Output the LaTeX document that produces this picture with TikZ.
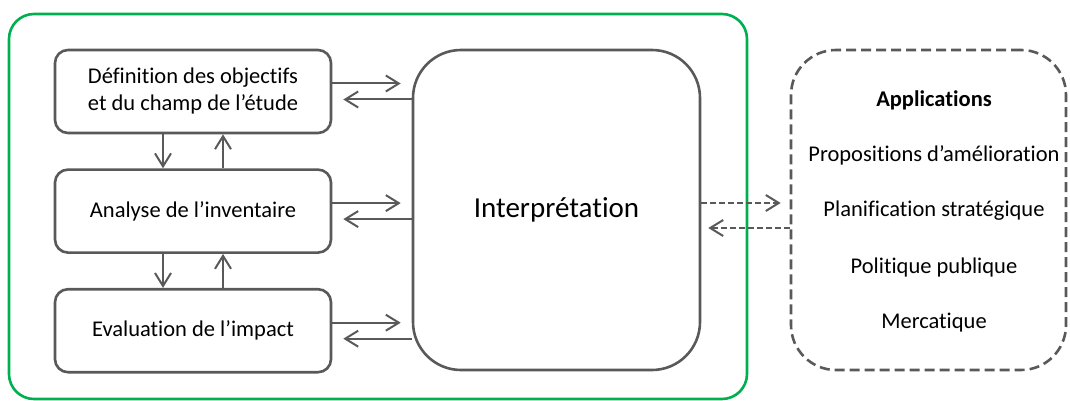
\documentclass[tikz,border=0pt]{standalone}
\usepackage{fontspec}
\setmainfont{Carlito}[Ligatures=NoCommon]
\usetikzlibrary{arrows.meta}
\usetikzlibrary{positioning}

\definecolor{boxgray}{HTML}{595959}
\definecolor{cadregreen}{HTML}{00B050}

\begin{document}
\begin{tikzpicture}[x=1pt, y=-1pt, every node/.style={font=\fontsize{22.5}{27}\selectfont, text=black},
    etape/.style={draw=boxgray, fill=white, line width=2.6pt, rounded corners=13pt, minimum width=276pt, minimum height=83pt, align=center, inner sep=0pt},
    fleche/.style={draw=boxgray, line width=2pt, -{Straight Barb[length=13pt, width=16pt]}}]
        \useasboundingbox (0,0) rectangle (1070,401);

        % Green frame around the study phases
        \draw[cadregreen, line width=2.6pt, rounded corners=25pt] (9,14) rectangle (747,399);

        % The three phases on the left
        \node[etape] (def) at (193,91.5) {D\'efinition des objectifs\\et du champ de l'\'etude};
        \node[etape, below=34pt of def] (inv) {Analyse de l'inventaire};
        \node[etape, below=34pt of inv] (imp) {Evaluation de l'impact};

        % Interpretation box
        \node[draw=boxgray, line width=2.6pt, rounded corners=48pt, minimum width=287pt, minimum height=320pt, font=\fontsize{29}{34}\selectfont] (interp) at (556.5,210) {Interpr\'etation};

        % Applications box
        \node[draw=boxgray, line width=2.6pt, dash pattern=on 10pt off 5pt, rounded corners=45pt, minimum width=275pt, minimum height=320pt] (appl) at (928.5,210) {};
        \node[font=\fontsize{22.5}{27}\selectfont\bfseries] (titre) at (934,100) {Applications};
        \foreach \txt [count=\i] in {Propositions d'am\'elioration, Planification strat\'egique, Politique publique, Mercatique}
        {
          \node (a\i) at (934, {99 + 56*\i}) {\txt};
        }

        % Vertical arrows between phases
        \draw[fleche] ([xshift=-30pt]def.south) -- ([xshift=-30pt]inv.north);
        \draw[fleche] ([xshift=30pt]inv.north) -- ([xshift=30pt]def.south);
        \draw[fleche] ([xshift=-30pt]inv.south) -- ([xshift=-30pt]imp.north);
        \draw[fleche] ([xshift=30pt]imp.north) -- ([xshift=30pt]inv.south);

        % Arrows to and from the interpretation
        \foreach \ph in {def, inv, imp}
        {
          \draw[fleche, shorten >=11pt] ([yshift=8pt]\ph.east) -- ([yshift=8pt]\ph.east -| interp.west);
          \draw[fleche, shorten >=11pt] ([yshift=-8pt]\ph.east -| interp.west) -- ([yshift=-8pt]\ph.east);
        }

        % Dashed arrows to the applications
        \draw[fleche, dash pattern=on 6pt off 3pt, shorten >=9pt] ([yshift=7pt]interp.east) -- ([yshift=7pt]interp.east -| appl.west);
        \draw[fleche, dash pattern=on 6pt off 3pt, shorten >=7pt] ([yshift=-18pt]interp.east -| appl.west) -- ([yshift=-18pt]interp.east);
\end{tikzpicture}
\end{document}
